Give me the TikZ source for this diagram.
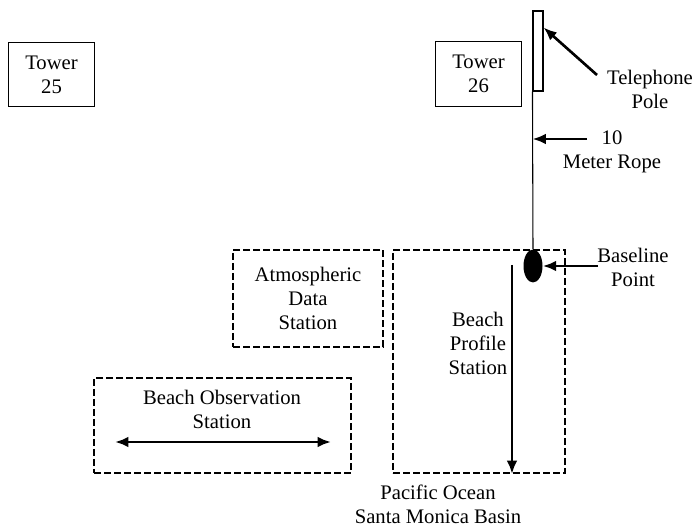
\documentclass[tikz,border=0pt]{standalone}
\usepackage{fontspec}
\setmainfont{Liberation Serif}
\usetikzlibrary{arrows.meta,positioning,shapes.geometric,calc}

\begin{document}
\begin{tikzpicture}[x=0.75pt, y=-0.75pt,
    font=\fontsize{15.5}{18}\selectfont,
    tower/.style={draw, line width=0.8pt, align=center, inner sep=0pt,
                  minimum width=65pt, minimum height=48.5pt},
    station/.style={draw, line width=1.5pt, dash pattern=on 5pt off 2.5pt,
                    align=center, inner sep=0pt},
    lbl/.style={align=center, inner sep=1pt},
    arr/.style={-{Latex[length=10pt, width=8pt]}, line width=2pt}]
    \useasboundingbox (0,0) rectangle (693,527);

    % --- towers and the pole ---
    \node[tower] (t25) at (51.5,74.5) {Tower\\25};
    \node[tower] (t26) at (478.5,74) {Tower\\26};
    \node[draw, line width=0.8pt, inner sep=0pt, minimum width=7.5pt,
          minimum height=60pt] (pole) at (538,51) {};

    % --- the stations (dashed areas) ---
    \node[station, minimum width=112.5pt, minimum height=72.75pt]
        (atmo) at (308,298.5) {Atmospheric\\Data\\Station};
    \node[station, minimum width=129pt, minimum height=167.25pt]
        (prof) at (479,361.5) {};
    \node[station, line width=1pt, minimum width=192.75pt, minimum height=71.25pt]
        (obs) at (222.5,425.5) {};
    \node[lbl] (proflbl) at (478,343) {Beach\\Profile\\Station};
    \node[lbl] (obslbl) at (222,409) {Beach Observation\\Station};
    \node[lbl] (ocean) at (438,504) {Pacific Ocean\\Santa Monica Basin};

    % baseline point and the rope to it
    \node[ellipse, fill, inner sep=0pt, minimum width=14.25pt,
          minimum height=24.75pt] (base) at (533,266) {};
    \draw[line width=0.8pt] (pole.south west) -- (base.north);

    % --- labels with their arrows ---
    \node[lbl] (tellbl) at (650,89) {Telephone\\Pole};
    \node[lbl] (ropelbl) at (612,152) {10\\Meter Rope};
    \node[lbl] (baselbl) at (633,267) {Baseline\\Point};
    \coordinate (teltail) at (597,75);
    \coordinate (ropetail) at (587,139);
    \coordinate (basetail) at (598,266);
    \draw[arr] (teltail) -- ($(pole.north east)+(0,17)$);
    \draw[arr] (ropetail) -- (ropetail -| pole.west);
    \draw[arr] (basetail) -- (base.east);

    % transect down the beach, and along it
    \coordinate (proftop) at (512,265);
    \draw[arr] (proftop) -- (proftop |- prof.south);
    \coordinate (obsleft) at (115,442);
    \coordinate (obsright) at (331,442);
    \draw[{Latex[length=10pt, width=8pt]}-{Latex[length=10pt, width=8pt]},
          line width=2pt] (obsleft) -- (obsright);
\end{tikzpicture}
\end{document}
